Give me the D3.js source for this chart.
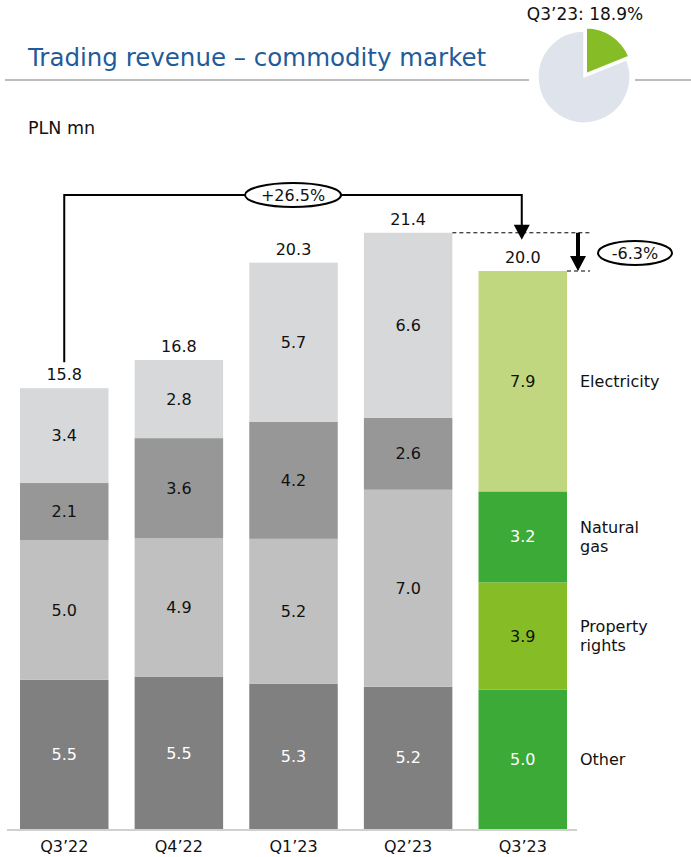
<!DOCTYPE html>
<html>
<head>
<meta charset="utf-8">
<script src="https://cdn.jsdelivr.net/npm/d3@7"></script>
<style>
  html, body { margin: 0; padding: 0; background: #fff; }
  svg { display: block; font-family: "DejaVu Sans", Verdana, sans-serif; }
</style>
</head>
<body>
<svg id="chart" width="691" height="857"></svg>
<script>
// ---- data ----
const categories = ["Q3\u201922", "Q4\u201922", "Q1\u201923", "Q2\u201923", "Q3\u201923"];
const seriesNames = ["Other", "Property rights", "Natural gas", "Electricity"];
const legendLines = [["Other"], ["Property", "rights"], ["Natural", "gas"], ["Electricity"]];
// values (bottom to top)
const otherValues    = [5.35, 5.45, 5.2, 5.1, 5.0];
const propertyValues = [5.0, 4.98, 5.2, 7.06, 3.84];
const gasValues      = [2.05, 3.58, 4.2, 2.58, 3.26];
const elecValues     = [3.4, 2.8, 5.7, 6.63, 7.9];
// printed labels
const otherLabels    = ["5.5", "5.5", "5.3", "5.2", "5.0"];
const propertyLabels = ["5.0", "4.9", "5.2", "7.0", "3.9"];
const gasLabels      = ["2.1", "3.6", "4.2", "2.6", "3.2"];
const elecLabels     = ["3.4", "2.8", "5.7", "6.6", "7.9"];
const totalLabels    = ["15.8", "16.8", "20.3", "21.4", "20.0"];
const growthYoY = "+26.5%";
const growthQoQ = "-6.3%";
const pieShare = 18.9;
const pieLabel = "Q3\u201923: 18.9%";

const grayColors  = ["#808080", "#C0C0C0", "#979797", "#D7D8DA"];
const greenColors = ["#3CAA36", "#86BC25", "#3CAA36", "#C0D780"];
const whiteText = [true, false, false, false];

// ---- build ----
const svg = d3.select("#chart");
const FS = 16;
const rows = categories.map((c, i) => ({
  cat: c,
  Other: otherValues[i], "Property rights": propertyValues[i],
  "Natural gas": gasValues[i], Electricity: elecValues[i]
}));
const labelSets = [otherLabels, propertyLabels, gasLabels, elecLabels];
const stack = d3.stack().keys(seriesNames)(rows);

const x = d3.scaleBand().domain(categories).range([20, 567]).paddingInner(0.228).paddingOuter(0);
const y = d3.scaleLinear().domain([0, 20]).range([829, 271]);

// title
svg.append("text").attr("x", 28).attr("y", 66).attr("font-size", 24.5).attr("fill", "#1F5C99")
  .text("Trading revenue \u2013 commodity market");
svg.append("line").attr("x1", 5).attr("x2", 529).attr("y1", 80).attr("y2", 80).attr("stroke", "#A6A6A6").attr("stroke-width", 1.5);
svg.append("line").attr("x1", 635).attr("x2", 691).attr("y1", 80).attr("y2", 80).attr("stroke", "#A6A6A6").attr("stroke-width", 1.5);
svg.append("text").attr("x", 28).attr("y", 134).attr("font-size", 17.5).attr("fill", "#111").text("PLN mn");

// pie
const pieG = svg.append("g").attr("transform", "translate(584,77)");
const pie = d3.pie().sort(null).value(d => d)([pieShare, 100 - pieShare]);
const arc = d3.arc().innerRadius(0).outerRadius(46);
pieG.selectAll("path").data(pie).join("path")
  .attr("d", arc)
  .attr("fill", (d, i) => i === 0 ? "#86BC25" : "#DEE3EC")
  .attr("stroke", "#fff").attr("stroke-width", 1.5)
  .attr("transform", (d, i) => {
    if (i !== 0) return null;
    const a = (d.startAngle + d.endAngle) / 2;
    return `translate(${Math.sin(a) * 4},${-Math.cos(a) * 4})`;
  });
svg.append("text").attr("x", 585).attr("y", 20).attr("text-anchor", "middle").attr("font-size", 17).attr("fill", "#111").text(pieLabel);

// bars
const layers = svg.append("g").selectAll("g").data(stack).join("g");
layers.each(function(layer, li) {
  const g = d3.select(this);
  g.selectAll("rect").data(layer).join("rect")
    .attr("x", d => x(d.data.cat))
    .attr("width", x.bandwidth())
    .attr("y", d => y(d[1]))
    .attr("height", d => y(d[0]) - y(d[1]))
    .attr("fill", (d, i) => i === categories.length - 1 ? greenColors[li] : grayColors[li]);
  g.selectAll("text").data(layer).join("text")
    .attr("x", d => x(d.data.cat) + x.bandwidth() / 2)
    .attr("y", d => (y(d[0]) + y(d[1])) / 2)
    .attr("dy", "0.35em")
    .attr("text-anchor", "middle")
    .attr("font-size", FS)
    .attr("fill", (d, i) => {
      if (i === categories.length - 1) return (li === 0 || li === 2) ? "#fff" : "#111";
      return whiteText[li] ? "#fff" : "#111";
    })
    .text((d, i) => labelSets[li][i]);
});

// totals
const tops = rows.map((r, i) => stack[stack.length - 1][i][1]);
svg.append("g").selectAll("text").data(categories).join("text")
  .attr("x", d => x(d) + x.bandwidth() / 2)
  .attr("y", (d, i) => y(tops[i]) - 8)
  .attr("text-anchor", "middle").attr("font-size", FS).attr("fill", "#111")
  .text((d, i) => totalLabels[i]);

// axis
svg.append("line").attr("x1", 7).attr("x2", 577).attr("y1", 830).attr("y2", 830).attr("stroke", "#D0D0D0").attr("stroke-width", 2);
svg.append("g").selectAll("text").data(categories).join("text")
  .attr("x", d => x(d) + x.bandwidth() / 2).attr("y", 852)
  .attr("text-anchor", "middle").attr("font-size", FS).attr("fill", "#111").text(d => d);

// legend on the right, at Q3'23 segment mid-points
const lastIdx = categories.length - 1;
stack.forEach((layer, li) => {
  const mid = (y(layer[lastIdx][0]) + y(layer[lastIdx][1])) / 2;
  const lines = legendLines[li];
  const t = svg.append("text").attr("x", 580).attr("font-size", FS).attr("fill", "#111");
  lines.forEach((ln, k) => {
    t.append("tspan").attr("x", 580)
      .attr("y", mid + (k - (lines.length - 1) / 2) * 19)
      .attr("dy", "0.35em").text(ln);
  });
});

// annotations
const ann = svg.append("g");
const xa = x(categories[0]) + x.bandwidth() / 2;
const xb = x(categories[lastIdx]) + x.bandwidth() / 2 - 1;
const yBracket = 195;
ann.append("path")
  .attr("d", `M${xa},${y(tops[0]) - 26} V${yBracket} H${xb} V${y(tops[3]) + 0}`)
  .attr("fill", "none").attr("stroke", "#000").attr("stroke-width", 2);
ann.append("path")
  .attr("d", `M${xb - 8},${y(tops[3]) - 8} L${xb + 8},${y(tops[3]) - 8} L${xb},${y(tops[3]) + 7} Z`)
  .attr("fill", "#000");
ann.append("ellipse").attr("cx", 293).attr("cy", yBracket).attr("rx", 48).attr("ry", 12)
  .attr("fill", "#fff").attr("stroke", "#000").attr("stroke-width", 2);
ann.append("text").attr("x", 293).attr("y", yBracket).attr("dy", "0.35em").attr("text-anchor", "middle")
  .attr("font-size", FS).attr("fill", "#111").text(growthYoY);

// dashed reference lines
const yPrev = y(tops[3]), yCur = y(tops[lastIdx]);
ann.append("line").attr("x1", x(categories[3]) + x.bandwidth()).attr("x2", 590).attr("y1", yPrev).attr("y2", yPrev)
  .attr("stroke", "#000").attr("stroke-width", 1).attr("stroke-dasharray", "4,3");
ann.append("line").attr("x1", x(categories[lastIdx]) + x.bandwidth()).attr("x2", 590).attr("y1", yCur).attr("y2", yCur)
  .attr("stroke", "#000").attr("stroke-width", 1).attr("stroke-dasharray", "4,3");
ann.append("line").attr("x1", 578).attr("x2", 578).attr("y1", yPrev).attr("y2", yCur - 14)
  .attr("stroke", "#000").attr("stroke-width", 4);
ann.append("path").attr("d", `M570,${yCur - 15} L586,${yCur - 15} L578,${yCur} Z`).attr("fill", "#000");
ann.append("ellipse").attr("cx", 635).attr("cy", 253).attr("rx", 37).attr("ry", 12)
  .attr("fill", "#fff").attr("stroke", "#000").attr("stroke-width", 2);
ann.append("text").attr("x", 635).attr("y", 253).attr("dy", "0.35em").attr("text-anchor", "middle")
  .attr("font-size", FS).attr("fill", "#111").text(growthQoQ);
</script>
</body>
</html>
